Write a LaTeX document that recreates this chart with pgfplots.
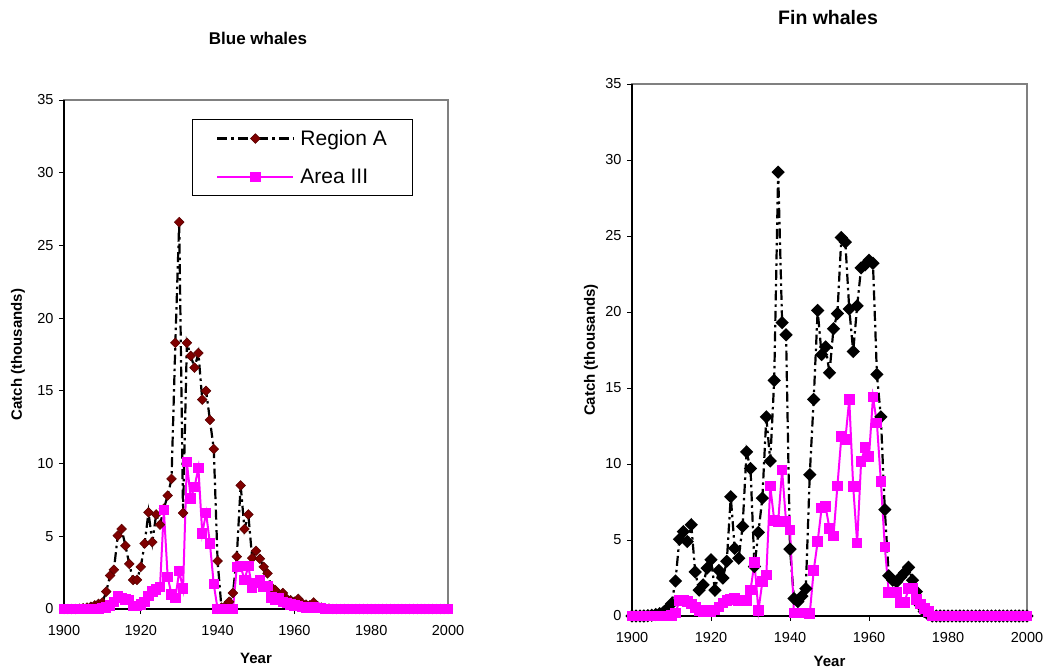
\documentclass[border=0pt]{standalone}
\usepackage{fontspec}
\setmainfont{Liberation Sans}
\usepackage{pgfplots}
\pgfplotsset{compat=1.18}
\usepackage{pgfplotstable}

\definecolor{darkred}{RGB}{128,0,0}
\definecolor{mag}{RGB}{255,0,255}
\definecolor{framegray}{RGB}{128,128,128}

% Blue whales: A = Region A, B = Area III
\pgfplotstableread{
year A B
1900 0 0
1901 0 0
1902 0 0
1903 0 0
1904 0.02 0
1905 0.05 0
1906 0.1 0
1907 0.15 0
1908 0.25 0
1909 0.35 0
1910 0.45 0.05
1911 1.2 0.1
1912 2.3 0.25
1913 2.7 0.5
1914 5.05 0.85
1915 5.5 0.75
1916 4.35 0.65
1917 3.1 0.6
1918 2.0 0.2
1919 2.0 0.2
1920 2.9 0.3
1921 4.5 0.5
1922 6.65 0.9
1923 4.6 1.2
1924 6.5 1.35
1925 5.8 1.5
1926 6.9 6.8
1927 7.8 2.2
1928 8.95 1.0
1929 18.3 0.75
1930 26.6 2.6
1931 6.6 1.4
1932 18.3 10.1
1933 17.4 7.6
1934 16.6 8.4
1935 17.6 9.7
1936 14.4 5.2
1937 15.0 6.6
1938 13.0 4.5
1939 11.0 1.7
1940 3.3 0
1941 0.1 0
1942 0.2 0
1943 0.5 0
1944 1.1 0
1945 3.6 2.9
1946 8.5 2.95
1947 5.5 2.0
1948 6.5 2.95
1949 3.5 1.45
1950 4.0 1.8
1951 3.45 2.0
1952 2.9 1.5
1953 2.45 1.6
1954 1.5 0.8
1955 1.3 0.6
1956 0.9 0.75
1957 1.1 0.5
1958 0.7 0.4
1959 0.6 0.3
1960 0.5 0.25
1961 0.7 0.2
1962 0.4 0.15
1963 0.3 0.1
1964 0.25 0.1
1965 0.45 0.1
1966 0.2 0.05
1967 0.1 0.05
1968 0.05 0
1969 0.03 0
1970 0 0
1971 0 0
1972 0 0
1973 0 0
1974 0 0
1975 0 0
1976 0 0
1977 0 0
1978 0 0
1979 0 0
1980 0 0
1981 0 0
1982 0 0
1983 0 0
1984 0 0
1985 0 0
1986 0 0
1987 0 0
1988 0 0
1989 0 0
1990 0 0
1991 0 0
1992 0 0
1993 0 0
1994 0 0
1995 0 0
1996 0 0
1997 0 0
1998 0 0
1999 0 0
2000 0 0
}\bluedata

% Fin whales: A = Region A, B = Area III
\pgfplotstableread{
year A B
1900 0 0
1901 0 0
1902 0 0
1903 0 0
1904 0.02 0
1905 0.05 0
1906 0.1 0
1907 0.15 0
1908 0.25 0
1909 0.5 0
1910 0.8 0.05
1911 2.3 0.2
1912 5.05 1.0
1913 5.55 1.05
1914 4.9 0.95
1915 6.0 0.8
1916 2.9 0.55
1917 1.7 0.35
1918 2.05 0.3
1919 3.15 0.35
1920 3.7 0.3
1921 1.7 0.4
1922 3.0 0.6
1923 2.5 0.85
1924 3.6 1.0
1925 7.85 1.1
1926 4.45 1.15
1927 3.8 1.0
1928 5.9 1.05
1929 10.8 1.0
1930 9.7 1.7
1931 3.25 3.5
1932 5.5 0.35
1933 7.75 2.25
1934 13.1 2.7
1935 10.2 8.55
1936 15.5 6.3
1937 29.2 6.2
1938 19.3 9.6
1939 18.5 6.2
1940 4.4 5.65
1941 1.15 0.2
1942 0.95 0.2
1943 1.3 0.2
1944 1.8 0.2
1945 9.3 0.15
1946 14.25 3.0
1947 20.1 4.9
1948 17.2 7.1
1949 17.7 7.2
1950 16.0 5.75
1951 18.9 5.25
1952 19.9 8.55
1953 24.9 11.8
1954 24.6 11.6
1955 20.2 14.25
1956 17.4 8.5
1957 20.4 4.8
1958 22.9 10.15
1959 23.1 11.1
1960 23.4 10.5
1961 23.2 14.4
1962 15.9 12.7
1963 13.1 8.85
1964 7.0 4.55
1965 2.65 1.55
1966 2.35 1.5
1967 2.25 1.55
1968 2.55 0.85
1969 2.85 0.9
1970 3.2 1.8
1971 2.35 1.8
1972 1.6 1.1
1973 0.7 0.8
1974 0.3 0.5
1975 0.1 0.3
1976 0 0
1977 0 0
1978 0 0
1979 0 0
1980 0 0
1981 0 0
1982 0 0
1983 0 0
1984 0 0
1985 0 0
1986 0 0
1987 0 0
1988 0 0
1989 0 0
1990 0 0
1991 0 0
1992 0 0
1993 0 0
1994 0 0
1995 0 0
1996 0 0
1997 0 0
1998 0 0
1999 0 0
2000 0 0
}\findata

\pgfplotsset{
  whale/.style={
    scale only axis, clip=false, axis on top=false,
    xmin=1900, xmax=2000, ymin=0, ymax=35,
    xtick={1900,1920,...,2000}, ytick={0,5,...,35},
    xtick pos=bottom, ytick pos=left, tick align=outside,
    major tick length=5pt,
    tick style={black, line width=0.8pt},
    /pgf/number format/1000 sep={},
    /pgf/number format/assume math mode=true,
    tick label style={font=\fontsize{14.5}{17}\selectfont},
    xticklabel style={yshift=-8pt},
    yticklabel style={xshift=-2pt},
    axis line style={draw=framegray, line width=1.4pt},
    label style={font=\bfseries\fontsize{15}{18}\selectfont},
    xlabel={Year}, ylabel={Catch (thousands)},
    legend image code/.code={\draw[mark repeat=2,mark phase=2,#1] plot coordinates {(0pt,0pt) (38pt,0pt) (76pt,0pt)};},
  },
  regA/.style={black, line width=2.2pt, dash pattern=on 10pt off 4pt on 2.5pt off 4pt},
}

\begin{document}
\begin{tikzpicture}
\useasboundingbox (0,0) rectangle (1043pt,671pt);

% Left: Blue whales
\begin{axis}[whale,
  at={(64pt,62pt)}, anchor=south west,
  width=384pt, height=509pt,
  xlabel style={at={(axis description cs:0.5,-0.098)}, anchor=center},
  ylabel style={at={(axis description cs:-0.12,0.5)}, anchor=center},
  legend style={at={(axis description cs:0.333,0.963)}, anchor=north west,
    draw=black, line width=0.8pt, fill=white,
    font=\fontsize{21}{24}\selectfont,
    inner xsep=24pt, inner ysep=9pt, row sep=18pt,
    /tikz/every odd column/.append style={column sep=4pt}},
  legend cell align=left,
]
\draw[black, line width=1.4pt] (rel axis cs:0,1) -- (rel axis cs:0,0) -- (rel axis cs:1,0);
\addplot[regA, mark=square*, mark size=3.4pt,
  mark options={solid, rotate=45, fill=darkred, draw=darkred!70!black, line width=0.6pt}]
  table[x=year, y=A] {\bluedata};
\addlegendentry{Region A}
\addplot[mag, line width=2pt, mark=square*, mark size=4.2pt,
  mark options={solid, fill=mag, draw=mag}]
  table[x=year, y=B] {\bluedata};
\addlegendentry{Area III}
\end{axis}

% Right: Fin whales
\begin{axis}[whale,
  at={(632pt,55pt)}, anchor=south west,
  width=395pt, height=532pt,
  xlabel style={at={(axis description cs:0.5,-0.085)}, anchor=center},
  ylabel style={at={(axis description cs:-0.104,0.5)}, anchor=center},
]
\draw[black, line width=1.4pt] (rel axis cs:0,1) -- (rel axis cs:0,0) -- (rel axis cs:1,0);
\addplot[regA, mark=square*, mark size=3.6pt,
  mark options={solid, rotate=45, fill=black, draw=black}]
  table[x=year, y=A] {\findata};
\addplot[mag, line width=2pt, mark=square*, mark size=4.3pt,
  mark options={solid, fill=mag, draw=mag}]
  table[x=year, y=B] {\findata};
\end{axis}

\node[font=\bfseries\fontsize{17}{20}\selectfont] at (258pt,633pt) {Blue whales};
\node[font=\bfseries\fontsize{19.5}{22}\selectfont] at (828pt,653pt) {Fin whales};
\end{tikzpicture}
\end{document}
